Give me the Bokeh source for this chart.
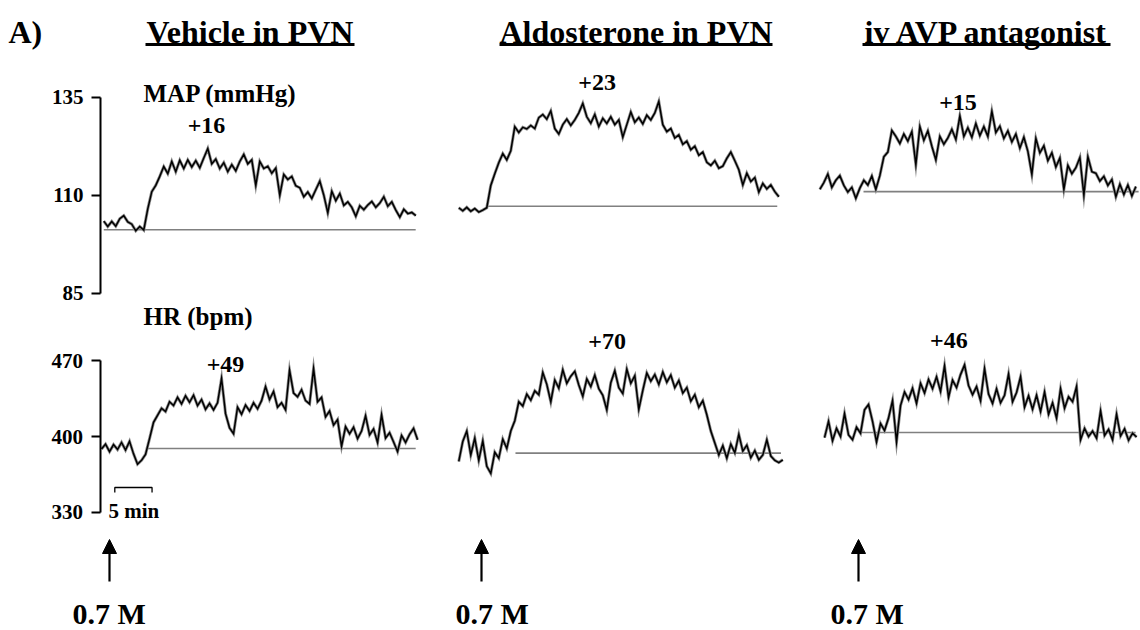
import numpy as np
from bokeh.plotting import figure
from bokeh.models import Range1d, LinearAxis, FixedTicker, Arrow, NormalHead
from bokeh.core.properties import value
from bokeh.embed import file_html
from bokeh.resources import INLINE

# ---------------- data ----------------
panel_label = "A)"
columns = ["Vehicle in PVN", "Aldosterone in PVN", "iv AVP antagonist"]
map_title = "MAP (mmHg)"
hr_title = "HR (bpm)"
map_ticks = [85, 110, 135]
hr_ticks = [330, 400, 470]
dose_label = "0.7 M"
scale_bar_min = 5
scale_bar_label = "5 min"
SAMPLE_MIN = 0.537          # minutes between read-off samples

map_vehicle = [103.4, 102.0, 103.3, 102.1, 104.0, 104.8, 103.2, 102.6, 100.9, 102.0,
               101.1, 106.5, 110.9, 112.5, 114.8, 117.3, 115.5, 118.6, 116.0, 118.9,
               116.8, 119.0, 117.2, 118.8, 117.0, 119.5, 121.9, 118.0, 119.2, 116.8,
               118.3, 116.0, 117.8, 116.2, 118.6, 120.4, 118.0, 119.0, 112.5, 118.6,
               116.8, 117.4, 115.6, 116.9, 110.0, 115.3, 114.0, 114.8, 112.4, 111.9,
               109.6, 110.8, 109.2, 111.4, 113.6, 110.0, 105.5, 111.0, 108.6, 110.4,
               107.4, 108.3, 106.9, 104.6, 107.3, 106.3, 107.5, 108.4, 106.9, 108.0,
               109.6, 107.2, 108.3, 106.2, 104.4, 106.4, 105.3, 105.6, 104.8]
map_aldo = [106.8, 106.0, 106.9, 105.9, 106.6, 105.7, 106.2, 106.8, 112.5, 115.5,
            118.3, 120.6, 119.0, 121.3, 127.5, 126.0, 127.3, 126.9, 127.8, 127.0,
            129.8, 130.6, 129.4, 131.5, 127.0, 125.6, 128.0, 129.4, 127.8, 129.2,
            131.0, 133.4, 130.0, 128.4, 130.6, 127.5, 129.6, 128.3, 130.0, 128.0,
            129.2, 124.8, 128.0, 131.2, 128.6, 129.8, 128.2, 130.4, 129.2, 131.0,
            133.9, 128.0, 126.2, 127.0, 124.6, 125.4, 123.0, 123.8, 121.6, 122.5,
            120.2, 121.0, 118.4, 117.6, 118.8, 116.9, 117.4, 119.4, 121.0, 118.8,
            116.5, 112.6, 115.6, 113.5, 114.5, 110.8, 113.0, 111.6, 112.6, 110.9, 109.6]
map_avp = [111.5, 113.2, 115.4, 112.0, 113.8, 115.0, 112.5, 110.8, 112.0, 109.2,
           111.8, 113.8, 112.6, 114.9, 111.5, 115.0, 119.8, 121.0, 126.5, 125.0,
           123.2, 125.6, 123.8, 126.2, 117.8, 127.5, 124.0, 126.4, 122.5, 119.0,
           125.0, 123.0, 124.6, 126.8, 124.2, 130.2, 125.0, 127.2, 124.8, 128.3,
           125.2, 127.5, 125.0, 131.4, 126.0, 127.6, 124.5, 126.4, 123.6, 125.6,
           122.0, 124.8, 121.2, 115.3, 124.5, 120.8, 122.6, 118.8, 120.8, 117.2,
           119.5, 111.5, 117.6, 115.5, 117.0, 119.6, 110.0, 119.8, 116.0, 115.6,
           113.6, 114.8, 112.5, 114.0, 109.6, 112.8, 110.2, 112.6, 109.8, 112.2]

hr_vehicle = [388.5, 393.0, 386.0, 392.5, 388.0, 394.5, 387.5, 395.5, 384.0, 374.5,
              378.0, 383.5, 398.0, 413.0, 419.5, 426.0, 423.0, 432.0, 428.5, 436.0,
              430.0, 437.5, 431.5, 438.0, 428.5, 434.0, 425.0, 430.5, 424.5, 431.0,
              453.5, 421.0, 408.0, 402.5, 427.0, 420.5, 429.0, 423.5, 431.0, 425.5,
              433.0, 446.0, 434.0, 441.5, 427.0, 431.0, 424.5, 461.0, 440.0, 436.5,
              443.0, 433.0, 430.0, 462.5, 432.0, 436.0, 418.0, 423.5, 410.5, 415.5,
              391.0, 409.0, 402.5, 408.5, 398.0, 405.0, 419.0, 401.5, 407.0, 394.5,
              420.0, 398.5, 403.5, 395.0, 386.0, 401.0, 394.5, 402.0, 407.5, 397.0]
hr_aldo = [377.0, 395.5, 405.0, 383.0, 398.5, 378.0, 396.0, 372.5, 366.0, 385.5,
           380.0, 397.5, 389.0, 405.0, 414.5, 432.0, 428.0, 439.0, 433.5, 442.0,
           438.5, 459.0, 448.0, 432.0, 452.0, 444.5, 461.5, 449.0, 455.5, 460.0,
           447.5, 437.0, 453.0, 446.0, 456.5, 444.0, 438.0, 424.5, 449.5, 460.5,
           445.0, 439.5, 462.0, 449.0, 456.0, 425.0, 442.5, 458.5, 451.0, 457.0,
           448.0, 459.5, 450.0, 456.5, 445.0, 451.5, 440.0, 445.0, 432.5, 438.5,
           427.0, 433.0, 420.0, 405.0, 394.0, 383.0, 391.5, 380.0, 393.0, 385.0,
           402.0, 386.5, 392.0, 380.5, 387.0, 378.5, 383.0, 397.0, 382.0, 378.0,
           376.0, 378.5]
hr_avp = [399.0, 414.0, 396.0, 407.5, 400.0, 421.0, 401.5, 397.0, 408.5, 403.0,
          424.5, 429.5, 414.0, 395.0, 412.0, 405.5, 417.0, 433.0, 395.0, 428.5,
          441.0, 434.0, 444.5, 430.5, 449.0, 440.0, 452.5, 444.0, 455.0, 441.5,
          465.0, 436.0, 452.0, 445.0, 457.0, 466.0, 447.0, 438.5, 446.0, 433.0,
          462.5, 439.0, 430.5, 444.0, 431.0, 438.0, 457.5, 432.0, 440.5, 455.0,
          427.0, 437.5, 425.0, 438.0, 423.0, 441.0, 420.5, 431.0, 417.0, 444.0,
          426.0, 436.5, 432.0, 446.0, 397.0, 407.5, 400.0, 405.0, 398.5, 423.5,
          401.0, 406.5, 397.0, 420.5, 400.5, 407.0, 396.5, 403.0, 399.5]

map_traces = [map_vehicle, map_aldo, map_avp]
hr_traces = [hr_vehicle, hr_aldo, hr_avp]
map_start = [-0.77, -3.05, -5.19]      # trace start, min relative to injection
hr_start = [-1.07, -3.05, -4.56]
map_base = [101.2, 107.2, 110.9]       # pre-injection baseline
hr_base = [389.0, 384.7, 403.7]
map_base_span = [(-0.77, 41.1), (0.77, 39.7), (0.67, 37.6)]
hr_base_span = [(5.06, 41.1), (4.56, 40.2), (0.27, 37.2)]
map_delta = ["+16", "+23", "+15"]
hr_delta = ["+49", "+70", "+46"]

# ---------------- layout ----------------
W, H = 1140, 630
PX_PER_MIN = 7.45
inj_x = [109, 481, 858]
MAP_Y110, MAP_PX = 194.7, 3.92
HR_Y400, HR_PX = 436.0, 1.0857
FONT = value("Liberation Serif")

p = figure(width=W, height=H, x_range=Range1d(0, W), y_range=Range1d(H, 0),
           output_backend="svg", toolbar_location=None, title=None,
           x_axis_type=None, y_axis_type=None, min_border=0,
           outline_line_color=None, background_fill_color="white")
p.extra_y_ranges = {
    "map": Range1d(110 - (H - MAP_Y110) / MAP_PX, 110 + MAP_Y110 / MAP_PX),
    "hr": Range1d(400 - (H - HR_Y400) / HR_PX, 400 + HR_Y400 / HR_PX),
}
p.extra_x_ranges = {f"c{k}": Range1d(-x0 / PX_PER_MIN, (W - x0) / PX_PER_MIN)
                    for k, x0 in enumerate(inj_x)}

def style_axis(ax):
    ax.axis_line_width = 2
    ax.axis_line_color = "black"
    ax.major_tick_line_width = 2
    ax.major_tick_out = 9
    ax.major_tick_in = 0
    ax.minor_tick_out = 0
    ax.minor_tick_in = 0
    ax.major_label_standoff = 8
    ax.major_label_text_font = "Liberation Serif"
    ax.major_label_text_font_style = "bold"
    ax.major_label_text_font_size = "21px"
    ax.major_label_text_color = "black"

map_axis = LinearAxis(y_range_name="map", fixed_location=100, bounds=(85, 135),
                      ticker=FixedTicker(ticks=map_ticks))
hr_axis = LinearAxis(y_range_name="hr", fixed_location=99.5, bounds=(330, 470),
                     ticker=FixedTicker(ticks=hr_ticks))
style_axis(map_axis)
style_axis(hr_axis)
p.add_layout(map_axis, "left")
p.add_layout(hr_axis, "left")

# baselines
for k in range(3):
    a, b = map_base_span[k]
    p.line([a, b], [map_base[k]] * 2, x_range_name=f"c{k}", y_range_name="map",
           line_color="#808080", line_width=1.6)
    a, b = hr_base_span[k]
    p.line([a, b], [hr_base[k]] * 2, x_range_name=f"c{k}", y_range_name="hr",
           line_color="#808080", line_width=1.6)

# traces
for k in range(3):
    for vals, start, rng in ((map_traces[k], map_start[k], "map"),
                             (hr_traces[k], hr_start[k], "hr")):
        t = start + np.arange(len(vals)) * SAMPLE_MIN
        p.line(t, vals, x_range_name=f"c{k}", y_range_name=rng,
               line_color="#8c8c8c", line_width=3.0, line_join="miter")
        p.line(t, vals, x_range_name=f"c{k}", y_range_name=rng,
               line_color="black", line_width=1.5, line_join="miter")

# scale bar (5 min)
sb0 = (114.3 - inj_x[0]) / PX_PER_MIN
p.line([sb0, sb0, sb0 + scale_bar_min, sb0 + scale_bar_min], [492, 487, 487, 492],
       x_range_name="c0", line_color="black", line_width=1.3)
p.text(x=[108], y=[510], text=[scale_bar_label], text_font=FONT,
       text_font_style="bold", text_font_size="21px", text_color="black",
       text_baseline="middle", text_align="left")

# titles
p.text(x=[8], y=[31], text=[panel_label], text_font=FONT, text_font_style="bold",
       text_font_size="32px", text_color="black", text_baseline="middle")
title_cx = [249.5, 635.5, 986.5]
title_span = [(145, 354), (499, 772), (862, 1110)]
p.text(x=title_cx, y=[31] * 3, text=columns, text_font=FONT, text_font_style="bold",
       text_font_size="32px", text_color="black", text_baseline="middle",
       text_align="center")
p.segment(x0=[s[0] for s in title_span], y0=[44] * 3,
          x1=[s[1] for s in title_span], y1=[44] * 3,
          line_color="black", line_width=3)

# variable labels
p.text(x=[143, 143], y=[92.5, 316], text=[map_title, hr_title], text_font=FONT,
       text_font_style="bold", text_font_size="25px", text_color="black",
       text_baseline="middle")

# response labels
p.text(x=[206, 596.7, 957.5], y=[124.5, 82, 102], text=map_delta, text_font=FONT,
       text_font_style="bold", text_font_size="24px", text_color="black",
       text_baseline="middle", text_align="center")
p.text(x=[225, 606.7, 948.3], y=[364, 341, 340], text=hr_delta, text_font=FONT,
       text_font_style="bold", text_font_size="24px", text_color="black",
       text_baseline="middle", text_align="center")

# injection arrows and dose labels
for k in range(3):
    p.add_layout(Arrow(end=NormalHead(size=14, fill_color="black", line_color="black"),
                       x_start=0, y_start=581, x_end=0, y_end=539,
                       x_range_name=f"c{k}", line_width=2.2, line_color="black"))
p.text(x=[72, 455, 830], y=[613] * 3, text=[dose_label] * 3, text_font=FONT,
       text_font_style="bold", text_font_size="30px", text_color="black",
       text_baseline="middle")

open("out.html", "w").write(file_html(p, INLINE))
